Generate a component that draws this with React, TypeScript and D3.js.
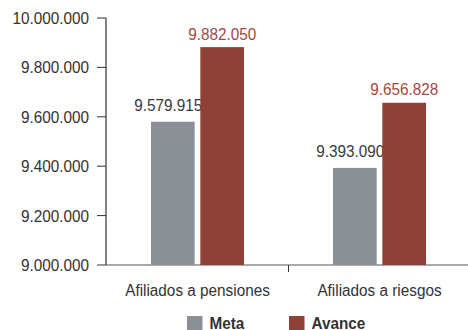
import React from "react";
import * as d3 from "d3";

const categories = ["Afiliados a pensiones", "Afiliados a riesgos"];
const seriesNames = ["Meta", "Avance"];
const metaValues = [9579915, 9393090];
const avanceValues = [9882050, 9656828];
const yTicks = [9000000, 9200000, 9400000, 9600000, 9800000, 10000000];

const colors = ["#8b9097", "#8f4138"];
const labelColors = ["#3a3a3a", "#a4483f"];

const fmt = (v: number) => d3.format(",")(v).replace(/,/g, ".");

export default function App() {
  const W = 468, H = 330;
  const y = d3.scaleLinear().domain([9000000, 10000000]).range([265, 18]);
  const x0 = d3.scaleBand().domain(categories).range([106.5, 470.5]);
  const x1 = d3.scaleBand().domain(seriesNames).range([44.5, 44.5 + 93]).paddingInner(0.115);
  const series = [metaValues, avanceValues];
  const font = "'Liberation Sans', Arial, sans-serif";
  const FS = 17.3;
  const sx = 0.885;
  const T = (p: { x: number; y: number; anchor: string; fill: string; text: string; bold?: boolean }) => (
    <g transform={`translate(${p.x},${p.y}) scale(${sx},1)`}>
      <text textAnchor={p.anchor as any} fill={p.fill} style={{ fontFamily: font, fontSize: FS, fontWeight: p.bold ? 700 : 400 }}>{p.text}</text>
    </g>
  );
  const labelDx = [-4.5, 0];
  const labelDy = [10.5, 7.3];
  return (
    <svg width={W} height={H} style={{ position: "absolute", left: 0, top: 0, background: "#fff" }}>
      {yTicks.map((t) => (
        <g key={t}>
          <line x1={97} x2={106} y1={y(t)} y2={y(t)} stroke="#333" />
          {T({ x: 89, y: y(t) + 6, anchor: "end", fill: "#333", text: fmt(t) })}
        </g>
      ))}
      <line x1={106} x2={106} y1={y(10000000)} y2={y(9000000)} stroke="#333" strokeWidth={1.2} />
      <line x1={106} x2={468} y1={265} y2={265} stroke="#555" strokeWidth={1.2} />
      <line x1={288.5} x2={288.5} y1={265} y2={272} stroke="#333" />
      {categories.map((c, i) => (
        <g key={c}>
          {series.map((vals, s) => {
            const bx = (x0(c) as number) + (x1(seriesNames[s]) as number);
            const bw = x1.bandwidth();
            return (
              <g key={s}>
                <rect x={bx} y={y(vals[i])} width={bw} height={265 - y(vals[i])} fill={colors[s]} />
                {T({ x: bx + bw / 2 + labelDx[s], y: y(vals[i]) - labelDy[s], anchor: "middle", fill: labelColors[s], text: fmt(vals[i]) })}
              </g>
            );
          })}
          {T({ x: (x0(c) as number) + x0.bandwidth() / 2, y: 296, anchor: "middle", fill: "#333", text: c })}
        </g>
      ))}
      {seriesNames.map((n, s) => {
        const lx = [187, 289][s];
        return (
          <g key={n}>
            <rect x={lx} y={316} width={15.5} height={14} fill={colors[s]} />
            {T({ x: lx + 22.5, y: 328.8, anchor: "start", fill: "#333", text: n, bold: true })}
          </g>
        );
      })}
    </svg>
  );
}
